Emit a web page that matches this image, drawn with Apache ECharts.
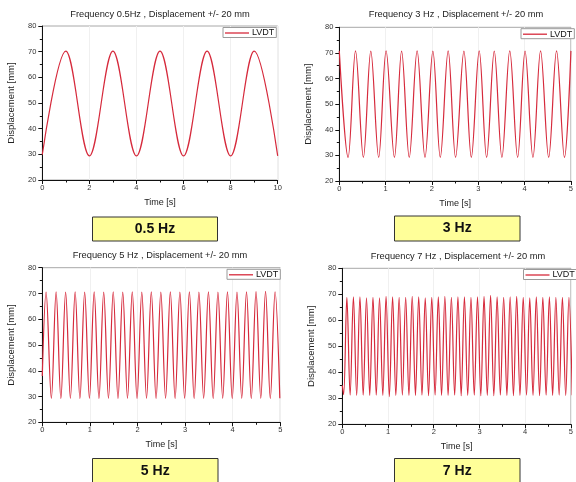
<!DOCTYPE html>
<html>
<head>
<meta charset="utf-8">
<script src="https://cdn.jsdelivr.net/npm/echarts@6/dist/echarts.min.js"></script>
<style>
html,body{margin:0;padding:0;background:#fff;}
#chart{width:576px;height:482px;}
</style>
</head>
<body>
<div id="chart"></div>
<script>
// ---- data (turning points of each LVDT trace) ----
const titles = [
  'Frequency 0.5Hz , Displacement +/- 20 mm',
  'Frequency 3 Hz , Displacement +/- 20 mm',
  'Frequency 5 Hz , Displacement +/- 20 mm',
  'Frequency 7 Hz , Displacement +/- 20 mm'
];
const freqLabels = ['0.5 Hz', '3 Hz', '5 Hz', '7 Hz'];
const seriesName = 'LVDT';
const xName = 'Time [s]';
const yName = 'Displacement [mm]';
const xMax = [10, 5, 5, 5];
const xStep = [2, 1, 1, 1];

// 0.5 Hz
const t05 = [0, 1, 2, 3, 4, 5, 6, 7, 8, 9, 10];
const d05 = [29.9, 70.2, 29.4, 70.2, 29.4, 70.2, 29.4, 70.2, 29.4, 70.2, 29.4];

// 3 Hz
const t3 = [0, 0.19, 0.35, 0.52, 0.68, 0.85, 1.01, 1.19, 1.345, 1.51, 1.68, 1.85, 2.02, 2.18, 2.35, 2.51, 2.69, 2.85, 3.02, 3.18, 3.345, 3.51, 3.68, 3.85, 4.01, 4.18, 4.345, 4.52, 4.69, 4.86, 5.0];
const d3 = [70.8, 29.2, 70.8, 29.2, 70.7, 29.2, 70.8, 29.2, 70.7, 29.2, 70.8, 29.2, 70.7, 29.2, 70.8, 29.2, 70.7, 29.2, 70.8, 29.2, 70.7, 29.2, 70.8, 29.2, 70.7, 29.2, 70.8, 29.2, 70.8, 29.2, 70.8];

// 5 Hz
const t5 = [0, 0.08, 0.19, 0.29, 0.39, 0.49, 0.59, 0.69, 0.79, 0.89, 0.99, 1.09, 1.19, 1.29, 1.39, 1.49, 1.59, 1.69, 1.79, 1.89, 1.99, 2.09, 2.19, 2.29, 2.39, 2.49, 2.59, 2.69, 2.79, 2.89, 2.99, 3.09, 3.19, 3.29, 3.39, 3.49, 3.59, 3.69, 3.79, 3.89, 3.99, 4.09, 4.19, 4.29, 4.39, 4.49, 4.59, 4.69, 4.79, 4.89, 4.99];
const d5 = [38, 70.5, 29.3, 70.6, 29.2, 70.5, 29.3, 70.6, 29.2, 70.5, 29.3, 70.6, 29.2, 70.5, 29.3, 70.6, 29.2, 70.5, 29.3, 70.6, 29.2, 70.5, 29.3, 70.6, 29.2, 70.5, 29.3, 70.6, 29.2, 70.5, 29.3, 70.6, 29.2, 70.5, 29.3, 70.6, 29.2, 70.5, 29.3, 70.6, 29.2, 70.5, 29.3, 70.6, 29.2, 70.7, 29.3, 70.8, 29.2, 70.6, 29.3];

// 7 Hz
const t7 = [0, 0.029, 0.100, 0.171, 0.243, 0.314, 0.386, 0.457, 0.529, 0.600, 0.671, 0.743, 0.814, 0.886, 0.957, 1.029, 1.100, 1.171, 1.243, 1.314, 1.386, 1.457, 1.529, 1.600, 1.671, 1.743, 1.814, 1.886, 1.957, 2.029, 2.100, 2.171, 2.243, 2.314, 2.386, 2.457, 2.529, 2.600, 2.671, 2.743, 2.814, 2.886, 2.957, 3.029, 3.100, 3.171, 3.243, 3.314, 3.386, 3.457, 3.529, 3.600, 3.671, 3.743, 3.814, 3.886, 3.957, 4.029, 4.100, 4.171, 4.243, 4.314, 4.386, 4.457, 4.529, 4.600, 4.671, 4.743, 4.814, 4.886, 4.957, 5.029];
const d7 = [35, 31.4, 68.8, 31.2, 69.0, 31.1, 69.0, 31.2, 68.6, 31.1, 68.8, 31.2, 68.6, 31.1, 69.2, 30.6, 69.0, 31.1, 68.8, 31.2, 68.8, 31.1, 69.2, 31.1, 69.0, 31.2, 68.6, 31.0, 68.8, 31.2, 69.0, 31.1, 69.2, 31.1, 68.8, 31.2, 69.0, 31.0, 69.0, 31.1, 68.8, 31.2, 69.0, 31.0, 69.2, 31.1, 69.6, 31.0, 69.0, 31.2, 68.8, 31.1, 69.0, 31.0, 69.2, 31.1, 68.8, 31.2, 68.6, 31.1, 69.0, 31.0, 68.8, 31.2, 69.0, 31.1, 68.8, 31.2, 68.8, 31.0, 68.8, 31.2];

const times = [t05, t3, t5, t7];
const disps = [d05, d3, d5, d7];

// ---- layout ----
const FONT = '"Liberation Sans", Arial, sans-serif';
const RED = '#d62a3c';
const grids = [
  {left: 42.3, top: 26, width: 235.4, height: 154},
  {left: 339.3, top: 27.3, width: 236.5, height: 153.7},
  {left: 42.3, top: 267.7, width: 238, height: 154.6},
  {left: 342.3, top: 268.3, width: 235.4, height: 156}
];
const titlePos = [[160, 14], [456, 14], [160, 255], [458, 256]];
const boxes = [[92.5, 217, 125, 24], [394.5, 216, 125.5, 25], [92.5, 458.5, 125.5, 26], [394.5, 458.5, 125.5, 26]];
const legendPos = [[223, 27.5], [521, 28.7], [227, 269.3], [523.5, 269.5]];

const chart = echarts.init(document.getElementById('chart'), null, {renderer: 'canvas'});

const option = {
  backgroundColor: '#fff',
  animation: false,
  textStyle: {fontFamily: FONT},
  grid: grids.map(g => Object.assign({show: true, borderColor: '#a8a8a8', borderWidth: 1, backgroundColor: 'transparent'}, g)),
  xAxis: grids.map((g, i) => ({
    type: 'value', gridIndex: i, min: 0, max: xMax[i], interval: xStep[i],
    name: xName, nameLocation: 'middle', nameGap: 18,
    nameTextStyle: {fontSize: 9, color: '#222', fontFamily: FONT},
    axisLine: {show: true, onZero: false, lineStyle: {color: '#111', width: 1}},
    axisTick: {show: true, length: 4, lineStyle: {color: '#111'}},
    minorTick: {show: true, splitNumber: 2, length: 2.5, lineStyle: {color: '#111'}},
    axisLabel: {fontSize: 7.5, color: '#333', margin: 4, fontFamily: FONT},
    splitLine: {show: true, lineStyle: {color: '#f0f0f0', width: 1}}
  })),
  yAxis: grids.map((g, i) => ({
    type: 'value', gridIndex: i, min: 20, max: 80, interval: 10,
    name: yName, nameLocation: 'middle', nameGap: 26,
    nameTextStyle: {fontSize: 9.5, color: '#222', fontFamily: FONT},
    axisLine: {show: true, onZero: false, lineStyle: {color: '#111', width: 1}},
    axisTick: {show: true, length: 4, lineStyle: {color: '#111'}},
    minorTick: {show: true, splitNumber: 2, length: 2.5, lineStyle: {color: '#111'}},
    axisLabel: {fontSize: 7.5, color: '#333', margin: 6, fontFamily: FONT},
    splitLine: {show: false}
  })),
  legend: legendPos.map((p, i) => ({
    left: p[0], top: p[1], orient: 'horizontal',
    data: [{name: seriesName, icon: 'rect'}],
    backgroundColor: '#fff', borderColor: '#9a9a9a', borderWidth: 1,
    padding: [1, 2, 0, 2], itemWidth: 24, itemHeight: 1.3, itemGap: 4,
    itemStyle: {color: RED},
    textStyle: {fontSize: 9, color: '#111', fontFamily: FONT, padding: [0, 0, 0, -2]}
  })),
  series: times.map((t, i) => ({
    name: seriesName, type: 'line', xAxisIndex: i, yAxisIndex: i,
    data: t.map((x, k) => [x, disps[i][k]]),
    smooth: 0.36, symbol: 'none', clip: true,
    lineStyle: {color: RED, width: 1.2}, itemStyle: {color: RED}
  })),
  graphic: [].concat(
    titles.map((txt, i) => ({
      type: 'text', x: titlePos[i][0], y: titlePos[i][1], silent: true,
      style: {text: txt, align: 'center', verticalAlign: 'middle', fontSize: 9.3, fontFamily: FONT, fill: '#222'}
    })),
    boxes.map((b, i) => ({
      type: 'rect', silent: true,
      shape: {x: b[0], y: b[1], width: b[2], height: b[3]},
      style: {fill: '#ffff99', stroke: '#333', lineWidth: 1}
    })),
    freqLabels.map((txt, i) => ({
      type: 'text', silent: true, x: boxes[i][0] + boxes[i][2] / 2, y: boxes[i][1] + 12.5,
      style: {text: txt, align: 'center', verticalAlign: 'middle', fontSize: 14, fontWeight: 'bold', fontFamily: FONT, fill: '#111'}
    }))
  )
};
chart.setOption(option);
</script>
</body>
</html>
